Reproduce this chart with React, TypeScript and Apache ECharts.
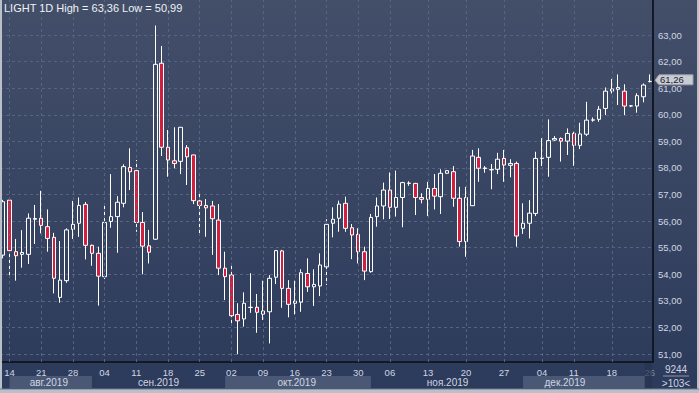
import React, { useEffect, useRef } from "react";
import * as echarts from "echarts";

const titleText = "LIGHT 1D High = 63,36 Low = 50,99";

const opens = [
  54.72, 56.79, 54.85, 54.75, 54.75, 56.07, 56.11, 55.79, 55.39, 53.13,
  53.76, 55.69, 55.92, 56.63, 55.09, 54.79, 53.91, 55.99, 56.17, 56.67,
  58.02, 57.9, 55.95, 55.07, 55.32, 61.94, 58.78, 58.27, 58.25, 58.76,
  58.49, 56.76, 56.59, 56.57, 56.04, 54.23, 53.97, 52.49, 52.32, 52.75,
  52.76, 52.5, 52.59, 53.89, 54.88, 53.47, 52.91, 52.95, 54.03, 53.53,
  53.56, 54.28, 55.92, 56.11, 56.67, 55.75, 55.5, 54.85, 54.1, 56.17,
  56.57, 57.17, 56.52, 56.89, 57.42, 57.42, 56.89, 56.82, 57.23, 56.92,
  57.8, 57.86, 56.86, 55.23, 56.58, 58.4, 57.98, 57.93, 57.95, 58.36,
  58.1, 58.17, 55.73, 55.92, 56.29, 58.36, 58.4, 59.05, 59.11, 59.01,
  59.3, 58.85, 59.27, 59.8, 59.83, 60.24, 60.89, 60.96, 60.89, 60.33,
  60.33, 60.68, 61.25,
];
const closes = [
  56.73, 54.89, 54.7, 54.82, 56.11, 56.1, 55.84, 55.35, 53.85, 53.78,
  55.67, 55.88, 56.59, 55.09, 54.79, 53.93, 55.95, 56.17, 56.71, 58.05,
  57.86, 55.95, 55.06, 54.83, 61.9, 58.78, 58.3, 58.17, 59.53, 58.42,
  56.77, 56.59, 56.5, 56.09, 54.23, 53.91, 52.44, 52.25, 52.91, 52.76,
  52.57, 52.62, 53.85, 54.89, 53.47, 52.87, 52.99, 54.06, 53.53, 53.62,
  54.35, 55.88, 56.07, 56.64, 55.73, 55.48, 54.85, 54.12, 56.14, 56.57,
  57.17, 56.52, 56.89, 57.45, 57.43, 56.89, 56.82, 57.23, 56.94, 57.8,
  57.9, 56.86, 55.23, 56.89, 58.45, 57.99, 58.0, 57.94, 58.33, 58.11,
  58.17, 55.44, 55.92, 56.3, 58.36, 58.38, 59.03, 59.11, 59.01, 59.3,
  58.85, 59.28, 59.8, 59.81, 60.21, 60.89, 60.97, 61.03, 60.33, 60.34,
  60.72, 61.12, 61.26,
];
const lows = [
  54.6, 53.97, 53.76, 54.25, 54.39, 55.14, 55.54, 54.85, 53.28, 52.93,
  53.68, 55.33, 55.41, 54.56, 54.32, 52.82, 53.82, 55.75, 54.81, 56.52,
  57.17, 55.6, 54.0, 54.41, 55.3, 58.45, 57.67, 57.99, 57.77, 57.36,
  56.64, 55.52, 55.41, 54.73, 53.97, 53.03, 52.15, 50.99, 52.03, 52.55,
  51.8, 52.28, 51.4, 53.63, 52.74, 52.38, 52.49, 52.59, 53.34, 52.81,
  53.18, 53.6, 55.39, 55.6, 55.6, 54.57, 54.41, 53.78, 54.06, 55.79,
  56.07, 56.08, 56.17, 55.77, 57.33, 56.23, 56.67, 56.19, 56.44, 56.27,
  57.78, 56.54, 55.04, 54.66, 56.57, 57.48, 57.82, 57.2, 57.77, 57.48,
  57.65, 55.04, 55.52, 55.35, 56.19, 58.07, 57.67, 59.02, 58.24, 58.49,
  58.08, 58.71, 59.2, 59.74, 59.74, 59.99, 60.8, 60.37, 59.99, 60.29,
  60.08, 60.47, 61.22,
];
const highs = [
  56.8, 56.86, 55.33, 55.66, 56.29, 56.61, 57.14, 56.44, 55.56, 55.25,
  55.73, 56.76, 56.89, 56.72, 55.12, 55.04, 56.57, 57.77, 56.94, 58.14,
  58.74, 58.3, 56.34, 55.67, 63.36, 62.59, 59.43, 59.53, 59.54, 58.86,
  58.5, 57.02, 56.83, 56.76, 56.64, 54.85, 54.41, 52.91, 53.32, 54.04,
  53.26, 53.76, 53.97, 54.92, 54.92, 53.78, 53.76, 54.19, 54.6, 54.19,
  54.79, 56.07, 56.52, 56.77, 56.92, 55.89, 55.73, 55.04, 56.27, 56.89,
  57.45, 57.83, 57.9, 57.48, 57.5, 57.44, 57.05, 57.48, 57.77, 57.95,
  57.92, 58.07, 57.29, 57.29, 58.68, 58.74, 58.07, 58.15, 58.57, 58.68,
  58.33, 58.24, 56.67, 56.79, 58.61, 59.12, 59.83, 59.2, 59.15, 59.49,
  59.36, 59.7, 60.49, 59.9, 60.33, 61.03, 61.35, 61.52, 61.15, 60.37,
  60.81, 61.18, 61.52,
];

const dayTickIndex = [1, 6, 11, 16, 21, 26, 31, 36, 41, 46, 51, 56, 61, 67, 73, 79, 85, 90, 96, 102];
const dayTickText = ["14", "21", "28", "04", "11", "18", "25", "02", "09", "16", "23", "30", "06", "13", "20", "27", "04", "11", "18", "26"];

const monthNames = ["авг.2019", "сен.2019", "окт.2019", "ноя.2019", "дек.2019"];
const monthStart = [1, 14, 35, 58, 82];
const monthEnd = [14, 35, 58, 82, 101.2];
const monthLabelAt = [7.2, 24.5, 46.3, 70.1, 88.6];
const monthShaded = [true, false, true, false, true];

const yTicks = [51, 52, 53, 54, 55, 56, 57, 58, 59, 60, 61, 62, 63];
const lastPrice = 61.26;
const volumeText = "9244";
const barsText = ">103<";

const FONT = "'Liberation Sans', Arial, sans-serif";
const TXT = "#cfd6e2";
const GRIDC = "#56647f";
const FS = 9.5;

export default function App() {
  const ref = useRef<HTMLDivElement>(null);
  useEffect(() => {
    const el = ref.current!;
    const chart = echarts.init(el, null, { renderer: "svg" });
    const cats = opens.map((_, i) => String(i));
    const data = opens.map((o, i) => [o, closes[i], lows[i], highs[i]]);
    const labelAt: Record<number, string> = {};
    dayTickIndex.forEach((idx, k) => (labelAt[idx] = dayTickText[k]));
    const fmt = (v: number) => v.toFixed(2).replace(".", ",");

    chart.setOption({
      animation: false,
      backgroundColor: {
        type: "linear", x: 0, y: 0, x2: 0, y2: 1,
        colorStops: [
          { offset: 0, color: "#434f69" },
          { offset: 1, color: "#2c3a5b" },
        ],
      },
      grid: { left: -1, right: 46, top: 0, bottom: 31 },
      xAxis: {
        type: "category",
        data: cats,
        boundaryGap: true,
        axisLine: { show: true, lineStyle: { color: "#121826", width: 2 } },
        axisTick: { show: false },
        splitLine: { show: false },
        axisLabel: {
          interval: (i: number) => labelAt[i] !== undefined,
          formatter: (_v: string, i: number) =>
            i === opens.length - 1 ? `{dim|${labelAt[i]}}` : labelAt[i] || "",
          color: TXT,
          fontSize: FS,
          fontFamily: FONT,
          margin: 5,
          rich: { dim: { color: "#7f8aa0", fontSize: FS, fontFamily: FONT } },
        },
      },
      yAxis: {
        type: "value",
        position: "right",
        min: 50.7,
        max: 64.32,
        scale: true,
        axisLine: { show: true, lineStyle: { color: "#121826", width: 2 } },
        axisTick: { show: false, customValues: yTicks },
        axisLabel: {
          customValues: yTicks,
          formatter: (v: number) => fmt(v),
          color: TXT,
          fontSize: FS,
          fontFamily: FONT,
          margin: 5,
        },
        splitLine: { show: true, lineStyle: { color: GRIDC, type: [3, 3], width: 1 } },
      },
      series: [
        {
          type: "candlestick",
          data,
          barWidth: 4,
          itemStyle: {
            color: "rgba(0,0,0,0)",
            color0: "#d21e3f",
            borderColor: "#ffffff",
            borderColor0: "#ffffff",
            borderWidth: 1,
          },
          markLine: {
            silent: true,
            symbol: "none",
            label: { show: false },
            lineStyle: { color: GRIDC, type: [3, 3], width: 1 },
            data: dayTickIndex.slice(0, -1).map((i) => ({ xAxis: i })),
          },
        },
      ],
    });

    const px = (i: number) => chart.convertToPixel({ xAxisIndex: 0 }, i) as number;
    const x0 = px(0);
    const s = px(1) - x0;
    const fx = (f: number) => x0 + s * f;
    const axisX = x0 + s * (opens.length - 0.5);
    const py = chart.convertToPixel({ yAxisIndex: 0 }, lastPrice) as number;
    const axisY = 362;

    const graphics: any[] = [];
    monthNames.forEach((m, k) => {
      if (monthShaded[k]) {
        graphics.push({
          type: "rect", z: 50,
          shape: { x: fx(monthStart[k]), y: 376, width: fx(monthEnd[k]) - fx(monthStart[k]), height: 12 },
          style: { fill: "#4a5876" },
        });
      }
      graphics.push({
        type: "text", z: 60,
        x: fx(monthLabelAt[k]), y: 382,
        style: { text: m, fill: TXT, font: `${FS + 0.5}px ${FONT}`, textAlign: "center", textVerticalAlign: "middle" },
      });
    });
    graphics.push({
      type: "rect", z: 55,
      shape: { x: fx(monthEnd[4]), y: 363, width: axisX - fx(monthEnd[4]) - 1, height: 26 },
      style: { fill: "#26324c", opacity: 0.55 },
    });
    graphics.push({
      type: "text", z: 60, left: 4, top: 2,
      style: { text: titleText, fill: "#eef1f6", font: `11px ${FONT}` },
    });
    graphics.push({
      type: "polygon", z: 60,
      shape: {
        points: [
          [axisX + 2, py - 1], [axisX + 6, py - 6.5], [axisX + 40, py - 6.5],
          [axisX + 40, py + 3.5], [axisX + 6, py + 3.5],
        ],
      },
      style: { fill: "#c9ccd3", stroke: "#9aa0aa", lineWidth: 1 },
    });
    graphics.push({
      type: "text", z: 61, x: axisX + 7, y: py - 1.5,
      style: { text: fmt(lastPrice), fill: "#1a2030", font: `${FS}px ${FONT}`, textVerticalAlign: "middle" },
    });
    graphics.push({
      type: "text", z: 60, x: (axisX + 699) / 2, y: 369,
      style: { text: volumeText, fill: TXT, font: `${FS + 0.5}px ${FONT}`, textAlign: "center", textVerticalAlign: "middle" },
    });
    graphics.push({
      type: "line", z: 60,
      shape: { x1: axisX + 10, y1: 376, x2: 689, y2: 376 },
      style: { stroke: "#8d97aa", lineWidth: 1 },
    });
    graphics.push({
      type: "text", z: 60, x: (axisX + 699) / 2, y: 383,
      style: { text: barsText, fill: TXT, font: `${FS + 0.5}px ${FONT}`, textAlign: "center", textVerticalAlign: "middle" },
    });
    // frame
    graphics.push({ type: "rect", z: 70, shape: { x: 0, y: 0, width: 2, height: 393 }, style: { fill: "#b9c0ca" } });
    graphics.push({ type: "rect", z: 70, shape: { x: 697, y: 0, width: 2, height: 393 }, style: { fill: "#b9c0ca" } });
    graphics.push({ type: "rect", z: 70, shape: { x: 0, y: 389, width: 699, height: 4 }, style: { fill: "#b9c0ca" } });
    graphics.push({ type: "line", z: 70, shape: { x1: 0, y1: axisY + 27, x2: 699, y2: axisY + 27 }, style: { stroke: "#6f7a8e", lineWidth: 1 } });

    chart.setOption({ graphic: graphics });
    return () => chart.dispose();
  }, []);
  return <div ref={ref} style={{ position: "fixed", left: 0, top: 0, width: 699, height: 393 }} />;
}
